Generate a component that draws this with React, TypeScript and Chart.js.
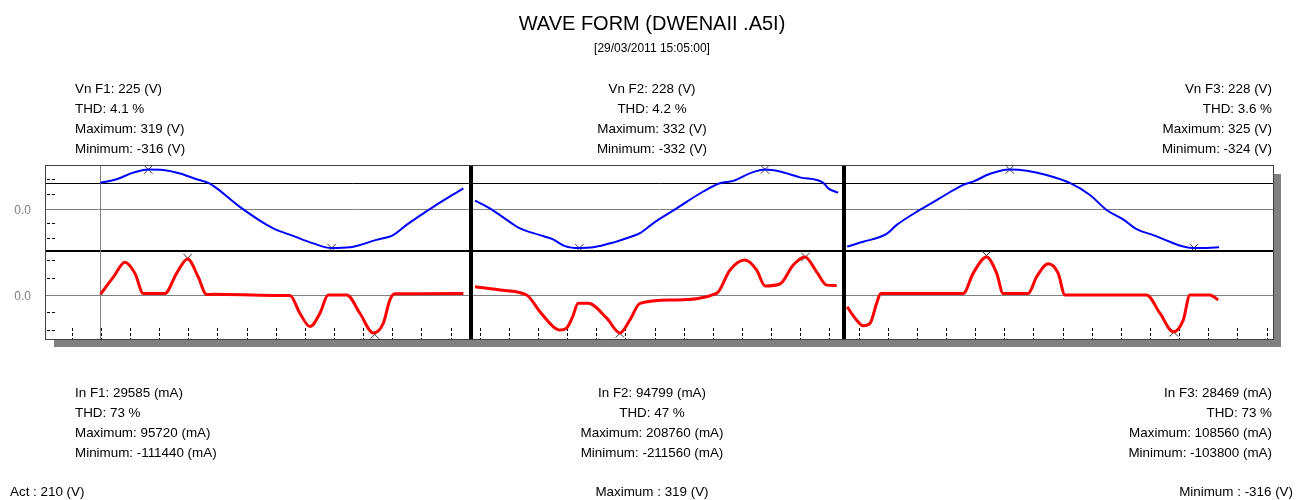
import React, { useEffect, useRef } from 'react';
import { Chart, registerables } from 'chart.js';

Chart.register(...registerables);

// ---------------- data ----------------
const chartTitle = 'WAVE FORM (DWENAII .A5I)';
const chartSubtitle = '[29/03/2011 15:05:00]';
const phases = ['F1', 'F2', 'F3'];
const vnRms = [225, 228, 228];
const vThd = ['4.1', '4.2', '3.6'];
const vMax = [319, 332, 325];
const vMin = [-316, -332, -324];
const inRms = [29585, 94799, 28469];
const iThd = [73, 47, 73];
const iMax = [95720, 208760, 108560];
const iMin = [-111440, -211560, -103800];
const actVoltage = 210;
const summaryMax = 319;
const summaryMin = -316;

// x in time divisions, y in % of the phase peak
const phaseStart = [1.98, 14.7, 27.5];
const xDivisions = [1, 42];
const vTickMarks = [-75, -37, 37, 75];
const iTickMarks = [-92, -46, 46, 92];

const voltF1: [number, number][] = [
  [1.98, 66], [2.54, 75], [3.11, 92], [3.63, 100], [4.14, 99], [4.72, 90], [5.29, 75], [5.69, 66],
  [5.98, 52], [6.77, 5], [7.92, -50], [8.6, -69], [9.29, -88], [9.92, -100], [10.55, -98],
  [11.46, -79], [12.03, -67], [12.49, -41], [13.41, 5], [14.44, 52],
];
const voltF2: [number, number][] = [
  [14.84, 21], [15.35, 1], [16.1, -37], [16.38, -50], [17.07, -67], [17.52, -78], [17.93, -95],
  [18.42, -100], [18.9, -98], [19.58, -86], [20.04, -75], [20.5, -62], [20.95, -37], [21.76, 1],
  [22.67, 44], [23.24, 65], [23.7, 71], [24.33, 92], [24.79, 100], [25.3, 95], [25.99, 80],
  [26.79, 66], [26.96, 52], [27.3, 41],
];
const voltF3: [number, number][] = [
  [27.61, -96], [28.16, -84], [28.96, -64], [29.31, -41], [30.1, -3], [30.79, 27], [31.59, 61],
  [31.93, 69], [32.51, 89], [33.19, 100], [33.77, 97], [34.45, 86], [35.25, 66], [35.94, 35],
  [36.51, -3], [37.08, -27], [37.54, -52], [38.11, -67], [38.68, -84], [39.14, -96], [39.51, -100],
  [40.37, -98],
];
const currF1: [number, number][] = [
  [1.99, 2], [2.43, 47], [2.83, 86], [3.17, 57], [3.46, 4], [4.2, 4], [4.6, 57], [4.98, 95],
  [5.34, 48], [5.63, 1], [5.86, 2], [7.92, -1], [8.49, -1], [8.83, -48], [9.18, -83], [9.52, -48],
  [9.8, 0], [10.44, 0], [10.89, -48], [11.35, -100], [11.69, -75], [11.92, -13], [12.09, 3],
  [14.44, 4],
];
const currF2: [number, number][] = [
  [14.84, 22], [15.7, 13], [16.61, 0], [17.07, -44], [17.52, -83], [17.75, -92], [17.98, -87],
  [18.19, -57], [18.38, -22], [18.72, -22], [19.36, -61], [19.81, -100], [20.16, -65], [20.5, -22],
  [21.64, -13], [23.13, 4], [23.59, 66], [24.1, 92], [24.5, 66], [24.79, 24], [25.3, 29],
  [25.76, 79], [26.16, 100], [26.56, 61], [26.91, 26], [27.25, 25],
];
const currF3: [number, number][] = [
  [27.61, -31], [27.88, -61], [28.16, -81], [28.39, -75], [28.62, -22], [28.76, 4], [31.59, 4],
  [31.93, 57], [32.39, 100], [32.74, 57], [32.96, 4], [33.82, 4], [34.11, 48], [34.51, 82],
  [34.85, 57], [35.08, 0], [37.88, 0], [38.34, -48], [38.8, -97], [39.14, -66], [39.37, 0],
  [40.05, 0], [40.34, -13],
];
const voltPeakMarks: [number, number][] = [
  [3.63, 100], [9.92, -100], [18.42, -100], [24.79, 100], [33.19, 100], [39.51, -100],
];
const currPeakMarks: [number, number][] = [
  [4.98, 97], [11.4, -104], [19.81, -101], [26.18, 100], [32.39, 104], [38.82, -98],
];

// ---------------- styles ----------------
const FONT = '"Liberation Sans", Arial, sans-serif';
const BLUE = '#0000ff';
const RED = '#ff0000';
const GRAY = '#808080';

const pts = (arr: [number, number][]) => arr.map(([x, y]) => ({ x, y }));

const decorPlugin = {
  id: 'decor',
  beforeDraw(chart: any) {
    const { ctx, chartArea: a } = chart;
    ctx.save();
    ctx.fillStyle = GRAY;
    ctx.fillRect(a.left + 8, a.bottom + 1, a.right - a.left, 7);
    ctx.fillRect(a.right + 1, a.top + 8, 7, a.bottom - a.top);
    ctx.fillStyle = '#ffffff';
    ctx.fillRect(a.left, a.top, a.right - a.left, a.bottom - a.top);
    ctx.restore();
  },
  beforeDatasetsDraw(chart: any) {
    const { ctx, chartArea: a, scales } = chart;
    const x = scales.x;
    const yV = scales.yV;
    const yI = scales.yI;
    ctx.save();
    const hline = (y: number, color: string, w: number) => {
      const yy = w % 2 === 1 ? Math.round(y) + 0.5 : Math.round(y);
      ctx.strokeStyle = color;
      ctx.lineWidth = w;
      ctx.beginPath();
      ctx.moveTo(a.left, yy);
      ctx.lineTo(a.right, yy);
      ctx.stroke();
    };
    hline(yV.getPixelForValue(0), GRAY, 1);
    hline(yI.getPixelForValue(0), GRAY, 1);
    hline(yV.getPixelForValue((actVoltage / vMax[0]) * 100), '#000000', 1);
    hline(yV.bottom, '#000000', 2);
    phaseStart.forEach((v, i) => {
      const px = x.getPixelForValue(v);
      const w = i === 0 ? 1 : 4;
      const xx = w === 1 ? Math.round(px) + 0.5 : Math.round(px);
      ctx.strokeStyle = i === 0 ? GRAY : '#000000';
      ctx.lineWidth = w;
      ctx.beginPath();
      ctx.moveTo(xx, a.top);
      ctx.lineTo(xx, a.bottom);
      ctx.stroke();
    });
    ctx.strokeStyle = '#000000';
    ctx.lineWidth = 1;
    ctx.setLineDash([3, 2]);
    const leftTicks = (scale: any, vals: number[]) => {
      vals.forEach((v) => {
        const yy = Math.round(scale.getPixelForValue(v)) + 0.5;
        ctx.beginPath();
        ctx.moveTo(a.left + 1, yy);
        ctx.lineTo(a.left + 10, yy);
        ctx.stroke();
      });
    };
    leftTicks(yV, vTickMarks);
    leftTicks(yI, iTickMarks);
    for (let k = xDivisions[0]; k <= xDivisions[1]; k++) {
      const xx = Math.round(x.getPixelForValue(k)) + 0.5;
      ctx.beginPath();
      ctx.moveTo(xx, a.bottom - 11);
      ctx.lineTo(xx, a.bottom);
      ctx.stroke();
    }
    ctx.restore();
  },
  afterDraw(chart: any) {
    const { ctx, chartArea: a } = chart;
    ctx.save();
    ctx.strokeStyle = '#404040';
    ctx.lineWidth = 1;
    ctx.strokeRect(Math.round(a.left) - 0.5, Math.round(a.top) - 0.5, Math.round(a.right - a.left) + 1, Math.round(a.bottom - a.top) + 1);
    ctx.restore();
  },
};

function WaveChart() {
  const ref = useRef<HTMLCanvasElement | null>(null);
  useEffect(() => {
    if (!ref.current) return;
    const lineDs = (data: [number, number][], color: string, axis: string, width: number) => ({
      type: 'line' as const,
      data: pts(data),
      yAxisID: axis,
      borderColor: color,
      backgroundColor: color,
      borderWidth: width,
      pointRadius: 0,
      cubicInterpolationMode: 'monotone' as const,
      fill: false,
    });
    const markDs = (data: [number, number][], axis: string) => ({
      type: 'scatter' as const,
      data: pts(data),
      yAxisID: axis,
      pointStyle: 'crossRot',
      pointRadius: 6,
      borderColor: '#303030',
      backgroundColor: '#303030',
      borderWidth: 1,
      showLine: false,
    });
    const yAxis = (weight: number, stackWeight: number, min: number, max: number) => ({
      type: 'linear' as const,
      position: 'left' as const,
      stack: 'panels',
      stackWeight,
      weight,
      min,
      max,
      grid: { display: false, drawTicks: false },
      border: { display: false },
      afterBuildTicks: (s: any) => {
        s.ticks = [{ value: 0 }];
      },
      afterFit: (s: any) => {
        s.width = 46;
      },
      ticks: {
        callback: () => '0.0',
        color: GRAY,
        padding: 15,
        labelOffset: 1.5,
        font: { family: FONT, size: 12 },
      },
    });
    const chart = new Chart(ref.current, {
      type: 'line',
      data: {
        datasets: [
          lineDs(voltF1, BLUE, 'yV', 2),
          lineDs(voltF2, BLUE, 'yV', 2),
          lineDs(voltF3, BLUE, 'yV', 2),
          lineDs(currF1, RED, 'yI', 3),
          lineDs(currF2, RED, 'yI', 3),
          lineDs(currF3, RED, 'yI', 3),
          markDs(voltPeakMarks, 'yV'),
          markDs(currPeakMarks, 'yI'),
        ] as any,
      },
      options: {
        responsive: false,
        animation: false,
        events: [],
        layout: { padding: { left: 0, top: 166, right: 23, bottom: 161 } },
        plugins: { legend: { display: false }, tooltip: { enabled: false }, title: { display: false } },
        scales: {
          x: { type: 'linear', min: 0.12, max: 42.22, display: false },
          yV: yAxis(1, 85, -107.4, 108.9),
          yI: yAxis(0, 88, -115.8, 115.8),
        } as any,
      },
      plugins: [decorPlugin],
    });
    return () => chart.destroy();
  }, []);
  return <canvas ref={ref} width={1296} height={500} style={{ position: 'absolute', left: 0, top: 0 }} />;
}

const textStyle: React.CSSProperties = {
  position: 'absolute',
  fontFamily: FONT,
  fontSize: '13.4px',
  lineHeight: '20px',
  color: '#000',
  whiteSpace: 'pre',
};

function Block({ lines, left, top, align }: { lines: string[]; left: number; top: number; align: 'left' | 'center' | 'right' }) {
  const style: React.CSSProperties = { ...textStyle, top, textAlign: align };
  if (align === 'left') style.left = left;
  else if (align === 'center') { style.left = left - 200; style.width = 400; }
  else { style.left = left - 400; style.width = 400; }
  return (
    <div style={style}>
      {lines.map((l, i) => (
        <div key={i}>{l}</div>
      ))}
    </div>
  );
}

export default function App() {
  const anchors: { x: number; align: 'left' | 'center' | 'right' }[] = [
    { x: 75, align: 'left' },
    { x: 652, align: 'center' },
    { x: 1272, align: 'right' },
  ];
  return (
    <div style={{ position: 'fixed', left: 0, top: 0, width: 1296, height: 500, background: '#fff', overflow: 'hidden' }}>
      <WaveChart />
      <div style={{ position: 'absolute', left: 452, width: 400, top: 10.5, textAlign: 'center', fontFamily: FONT, fontSize: '20px', lineHeight: '24px' }}>
        {chartTitle}
      </div>
      <div style={{ position: 'absolute', left: 452, width: 400, top: 39.6, textAlign: 'center', fontFamily: FONT, fontSize: '12px', lineHeight: '16px' }}>
        {chartSubtitle}
      </div>
      {phases.map((p, i) => (
        <Block
          key={'v' + p}
          lines={[`Vn ${p}: ${vnRms[i]} (V)`, `THD: ${vThd[i]} %`, `Maximum: ${vMax[i]} (V)`, `Minimum: ${vMin[i]} (V)`]}
          left={anchors[i].x}
          top={78.6}
          align={anchors[i].align}
        />
      ))}
      {phases.map((p, i) => (
        <Block
          key={'i' + p}
          lines={[`In ${p}: ${inRms[i]} (mA)`, `THD: ${iThd[i]} %`, `Maximum: ${iMax[i]} (mA)`, `Minimum: ${iMin[i]} (mA)`]}
          left={anchors[i].x}
          top={382.8}
          align={anchors[i].align}
        />
      ))}
      <Block lines={[`Act : ${actVoltage} (V)`]} left={10} top={482.2} align="left" />
      <Block lines={[`Maximum : ${summaryMax} (V)`]} left={652} top={482.2} align="center" />
      <Block lines={[`Minimum : ${summaryMin} (V)`]} left={1293} top={482.2} align="right" />
    </div>
  );
}
